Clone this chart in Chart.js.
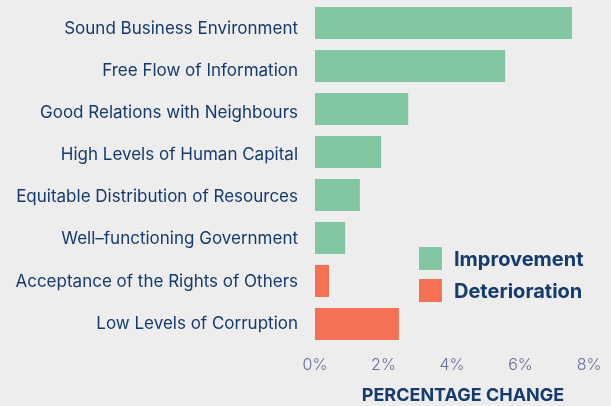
<!DOCTYPE html>
<html>
<head>
<meta charset="utf-8">
<script src="https://cdn.jsdelivr.net/npm/chart.js@4.4.1/dist/chart.umd.min.js"></script>
<style>
  html, body { margin: 0; padding: 0; background: #ededed; }
  #wrap { position: relative; width: 611px; height: 406px; }
  #legend { position: absolute; left: 419px; top: 247px; font-family: Inter, "Noto Sans", sans-serif; }
  .item { display: flex; align-items: center; height: 23px; margin-bottom: 9px; }
  .box { width: 23px; height: 23px; margin-right: 12px; }
  .lbl { font-size: 20px; font-weight: 700; color: #143a6e; }
</style>
</head>
<body>
<div id="wrap">
  <canvas id="c" width="611" height="406"></canvas>
  <div id="legend"></div>
</div>
<script>
const categories = [
  "Sound Business Environment",
  "Free Flow of Information",
  "Good Relations with Neighbours",
  "High Levels of Human Capital",
  "Equitable Distribution of Resources",
  "Well\u2013functioning Government",
  "Acceptance of the Rights of Others",
  "Low Levels of Corruption"
];
const improvement = [7.5, 5.55, 2.72, 1.93, 1.31, 0.88, null, null];
const deterioration = [null, null, null, null, null, null, 0.41, 2.45];
const seriesNames = ["Improvement", "Deterioration"];
const xTicks = [0, 2, 4, 6, 8];
const axisTitle = "PERCENTAGE CHANGE";

const GREEN = "#82c5a1";
const ORANGE = "#f47153";
const NAVY = "#143a6e";

const chart = new Chart(document.getElementById("c"), {
  type: "bar",
  data: {
    labels: categories,
    datasets: [
      { label: seriesNames[0], data: improvement, backgroundColor: GREEN },
      { label: seriesNames[1], data: deterioration, backgroundColor: ORANGE }
    ]
  },
  options: {
    indexAxis: "y",
    responsive: false,
    animation: false,
    layout: { padding: { top: 1.5, left: 0, right: 0, bottom: 0 } },
    datasets: { bar: { categoryPercentage: 0.744, barPercentage: 1 } },
    plugins: { legend: { display: false }, tooltip: { enabled: false } },
    scales: {
      y: {
        stacked: true,
        display: false
      },
      yl: {
        type: "linear",
        position: "left",
        reverse: true,
        offset: false,
        min: -0.6537,
        max: 7.5233,
        grid: { display: false, drawTicks: false, offset: false },
        border: { display: false },
        afterBuildTicks: (s) => { s.ticks = categories.map((c, i) => ({ value: i })); },
        ticks: {
          padding: 17,
          color: NAVY,
          font: { family: "Inter", size: 17 },
          callback: (v) => categories[v]
        },
        afterFit: (s) => { s.width = 315; s.paddingTop = 0; s.paddingBottom = 0; }
      },
      x: {
        stacked: true,
        min: 0,
        max: 8.64,
        grid: { display: false, drawTicks: false },
        border: { display: false },
        afterBuildTicks: (s) => { s.ticks = xTicks.map(v => ({ value: v })); },
        ticks: {
          padding: 10,
          color: "#6a6c98",
          font: { family: "Inter", size: 16, weight: 300 },
          callback: (v) => v + "%"
        },
        title: {
          display: true,
          text: axisTitle,
          color: NAVY,
          font: { family: "Inter", size: 18, weight: 700 },
          padding: { top: 12, bottom: 0 }
        },
        afterFit: (s) => { s.height = 60.5; s.paddingLeft = 0; s.paddingRight = 0; s.paddingTop = 0; s.paddingBottom = 0; }
      }
    }
  }
});

const legend = document.getElementById("legend");
chart.data.datasets.forEach(ds => {
  const it = document.createElement("div");
  it.className = "item";
  const b = document.createElement("div");
  b.className = "box";
  b.style.background = ds.backgroundColor;
  const t = document.createElement("span");
  t.className = "lbl";
  t.textContent = ds.label;
  it.appendChild(b); it.appendChild(t);
  legend.appendChild(it);
});
</script>
</body>
</html>
